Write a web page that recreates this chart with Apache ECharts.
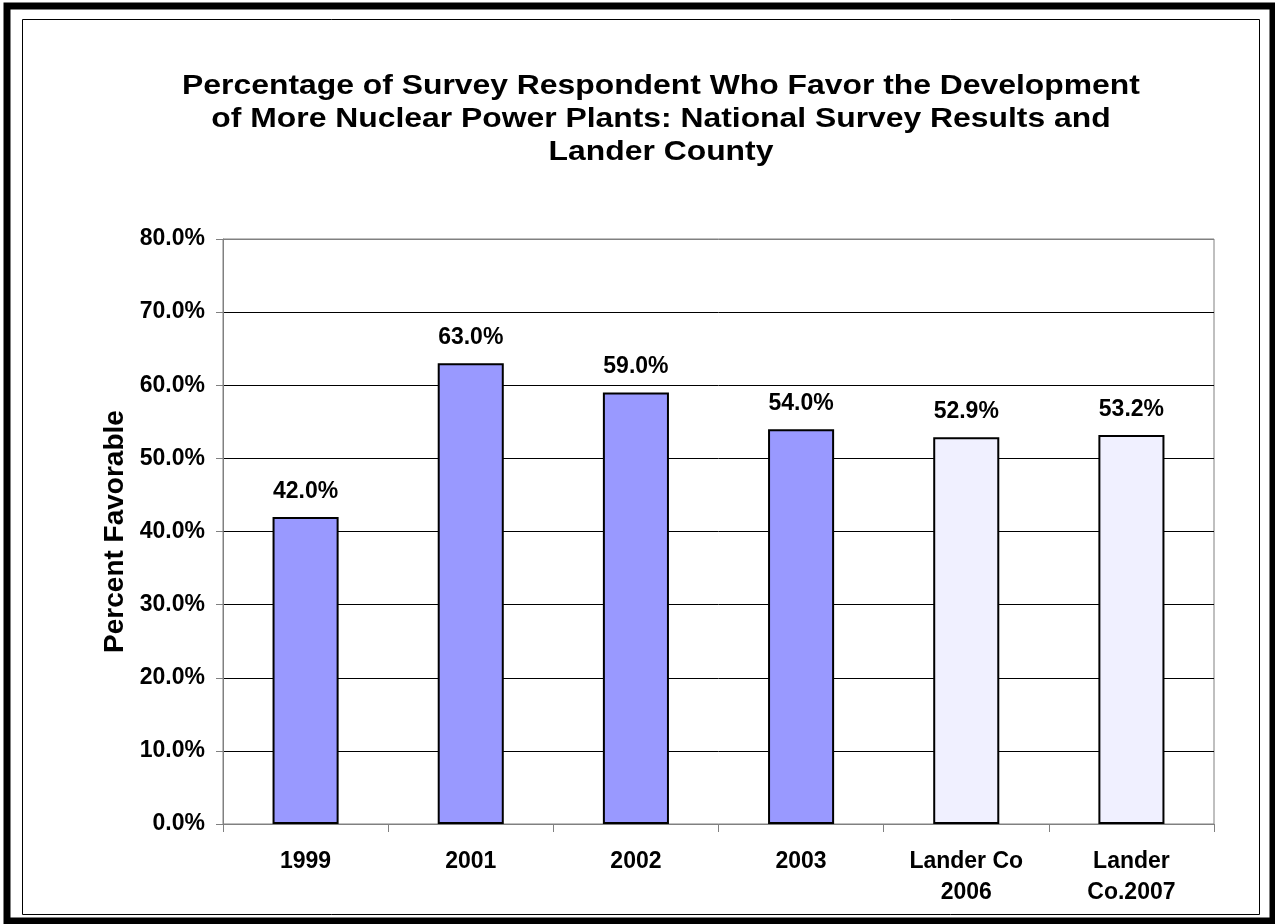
<!DOCTYPE html>
<html>
<head>
<meta charset="utf-8">
<script src="https://cdn.jsdelivr.net/npm/echarts@6/dist/echarts.min.js"></script>
<style>
html,body{margin:0;padding:0;background:#fff;}
#chart{width:1275px;height:924px;}
</style>
</head>
<body>
<div id="chart"></div>
<script>
const categories = ['1999', '2001', '2002', '2003', 'Lander Co\n2006', 'Lander\nCo.2007'];
const values = [42.0, 63.0, 59.0, 54.0, 52.9, 53.2];
const barColors = ['#9999FF', '#9999FF', '#9999FF', '#9999FF', '#F0F0FF', '#F0F0FF'];
const yTicks = { min: 0, max: 80, interval: 10 };
const titleText = 'Percentage of Survey Respondent Who Favor the Development\nof More Nuclear Power Plants: National Survey Results and\nLander County';
const yName = 'Percent Favorable';

const FONT = '"Liberation Sans", Arial, Helvetica, sans-serif';
const chart = echarts.init(document.getElementById('chart'), null, { renderer: 'canvas' });

chart.setOption({
  backgroundColor: '#ffffff',
  animation: false,
  graphic: [
    { type: 'rect', shape: { x: 7, y: 6, width: 1266, height: 915 }, style: { fill: 'none', stroke: '#000', lineWidth: 7 }, silent: true },
    { type: 'rect', shape: { x: 22.5, y: 19.5, width: 1237, height: 895 }, style: { fill: 'none', stroke: '#000', lineWidth: 1 }, silent: true },
    {
      type: 'text', x: 661, y: 70, scaleX: 1.18, scaleY: 1, silent: true,
      style: {
        text: titleText,
        fontFamily: FONT, fontWeight: 'bold', fontSize: 27, lineHeight: 33,
        fill: '#000', align: 'center', verticalAlign: 'top'
      }
    }
  ],
  grid: {
    left: 223, top: 239, right: 61, bottom: 100,
    show: true, borderColor: '#808080', borderWidth: 1, backgroundColor: 'transparent'
  },
  xAxis: {
    type: 'category',
    data: categories,
    axisLine: { lineStyle: { color: '#808080', width: 1 } },
    axisTick: { show: true, alignWithLabel: false, length: 8, lineStyle: { color: '#808080' } },
    axisLabel: {
      fontFamily: FONT, fontWeight: 'bold', fontSize: 23, lineHeight: 31, color: '#000', margin: 22, interval: 0
    }
  },
  yAxis: {
    type: 'value',
    min: yTicks.min, max: yTicks.max, interval: yTicks.interval,
    name: yName,
    nameLocation: 'middle',
    nameRotate: 90,
    nameGap: 88,
    nameTextStyle: { fontFamily: FONT, fontWeight: 'bold', fontSize: 28, color: '#000' },
    axisLine: { show: true, lineStyle: { color: '#808080', width: 1 } },
    axisTick: { show: true, length: 7, lineStyle: { color: '#808080' } },
    axisLabel: {
      fontFamily: FONT, fontWeight: 'bold', fontSize: 23, color: '#000', margin: 18,
      formatter: v => v.toFixed(1) + '%'
    },
    splitLine: {
      show: true,
      lineStyle: { color: ['#808080', '#000', '#000', '#000', '#000', '#000', '#000', '#000', '#808080'], width: 1 }
    }
  },
  series: [{
    type: 'bar',
    barWidth: '40%',
    data: values.map((v, i) => ({ value: v, itemStyle: { color: barColors[i] } })),
    itemStyle: { borderColor: '#000', borderWidth: 2 },
    label: {
      show: true, position: 'top', distance: 14,
      fontFamily: FONT, fontWeight: 'bold', fontSize: 23, color: '#000',
      formatter: p => p.value.toFixed(1) + '%'
    }
  }]
});
</script>
</body>
</html>
